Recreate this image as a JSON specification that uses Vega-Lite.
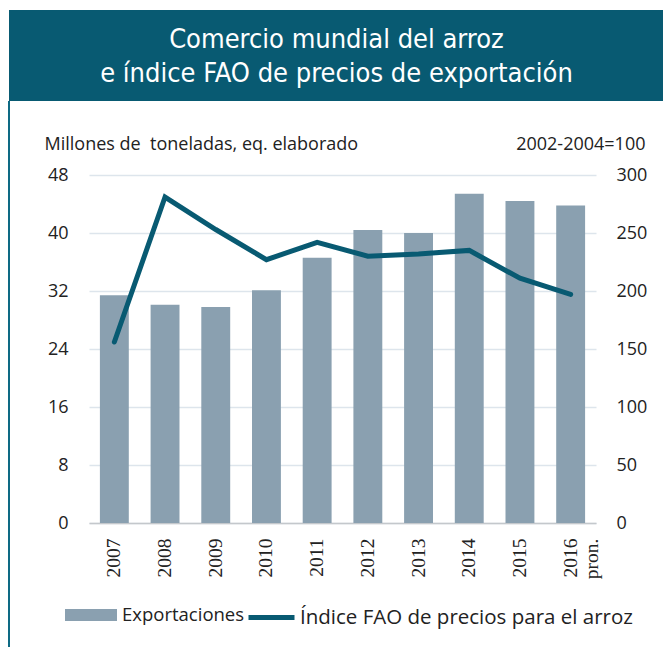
{
  "$schema": "https://vega.github.io/schema/vega-lite/v6.json",
  "padding": {"left": 8, "top": 10, "right": 0, "bottom": 0},
  "background": "white",
  "spacing": 0,
  "bounds": "flush",
  "config": {"view": {"stroke": null}, "font": "Open Sans"},
  "datasets": {
    "titulo": [{"texto": "Comercio mundial del arroz\ne índice FAO de precios de exportación"}],
    "comercio": [
      {"anio": "2007", "exportaciones": 31.4, "indice": 156},
      {"anio": "2008", "exportaciones": 30.1, "indice": 281},
      {"anio": "2009", "exportaciones": 29.8, "indice": 253},
      {"anio": "2010", "exportaciones": 32.1, "indice": 227},
      {"anio": "2011", "exportaciones": 36.6, "indice": 242},
      {"anio": "2012", "exportaciones": 40.4, "indice": 230},
      {"anio": "2013", "exportaciones": 40.0, "indice": 232},
      {"anio": "2014", "exportaciones": 45.4, "indice": 235},
      {"anio": "2015", "exportaciones": 44.4, "indice": 211},
      {"anio": "2016", "exportaciones": 43.8, "indice": 197}
    ]
  },
  "vconcat": [
    {
      "width": 655,
      "height": 91,
      "view": {"fill": "#085a72", "stroke": null},
      "data": {"name": "titulo"},
      "mark": {"type": "text", "font": "DejaVu Sans Condensed, Roboto, Liberation Sans, sans-serif", "fontSize": 27, "color": "white", "lineBreak": "\n", "lineHeight": 34, "align": "center", "baseline": "middle", "dy": -16},
      "encoding": {"text": {"field": "texto", "type": "nominal"}}
    },
    {
      "width": 655,
      "height": 546,
      "view": {"stroke": "#0e6a84", "strokeWidth": 2, "strokeDash": [0, 1856, 546, 10]},
      "data": {"name": "comercio"},
      "layer": [
        {
          "mark": {"type": "bar"},
          "encoding": {
            "x": {
              "field": "anio", "type": "ordinal",
              "scale": {"range": [80, 587], "paddingInner": 0.43, "paddingOuter": 0.215},
              "axis": {
                "orient": "bottom", "offset": -124, "title": null,
                "labelAngle": -90, "labelAlign": "right", "labelBaseline": "middle", "labelPadding": 15,
                "labelFont": "Liberation Serif", "labelFontSize": 19.5, "labelColor": "#222",
                "ticks": false, "domainColor": "#c4c8cc", "domainWidth": 1.5, "grid": false,
                "labelExpr": "datum.value == '2016' ? ['2016', 'pron.'] : datum.value"
              }
            },
            "y": {
              "field": "exportaciones", "type": "quantitative",
              "scale": {"domain": [0, 48], "range": [422, 74], "nice": false, "zero": true},
              "axis": {
                "orient": "left", "offset": -80, "values": [0, 8, 16, 24, 32, 40, 48],
                "domain": false, "ticks": false, "labelPadding": 21, "labelFontSize": 18, "labelColor": "#222",
                "grid": true, "gridColor": "#dde5ec", "gridWidth": 1.5,
                "title": "Millones de\u00a0 toneladas, eq. elaborado", "titleAngle": 0, "titleAlign": "left",
                "titleBaseline": "alphabetic", "titleX": -45, "titleY": 48, "titleFontSize": 18,
                "titleFontWeight": "normal", "titleColor": "#222"
              }
            },
            "fill": {
              "datum": "Exportaciones", "type": "nominal",
              "scale": {"range": ["#8aa0b0"]},
              "legend": {
                "orient": "none", "legendX": 56, "legendY": 579, "title": null,
                "symbolType": "M-1,-0.23H1V0.23H-1Z", "symbolSize": 2704, "symbolStrokeWidth": 0,
                "labelFontSize": 18.5, "labelOffset": 5, "labelColor": "#222", "labelLimit": 400
              }
            }
          }
        },
        {
          "mark": {"type": "line", "strokeWidth": 5, "strokeCap": "round"},
          "encoding": {
            "x": {"field": "anio", "type": "ordinal"},
            "y": {
              "field": "indice", "type": "quantitative",
              "scale": {"domain": [0, 300], "range": [422, 74], "nice": false},
              "axis": {
                "orient": "right", "offset": -68, "values": [0, 50, 100, 150, 200, 250, 300],
                "domain": false, "ticks": false, "grid": false, "labelPadding": 20, "labelFontSize": 18, "labelColor": "#222",
                "title": "2002-2004=100", "titleAngle": 0, "titleAlign": "right", "titleBaseline": "alphabetic",
                "titleX": 49, "titleY": 48, "titleFontSize": 18, "titleFontWeight": "normal", "titleColor": "#222"
              }
            },
            "stroke": {
              "datum": "Índice FAO de precios para el arroz", "type": "nominal",
              "scale": {"range": ["#085a72"]},
              "legend": {
                "orient": "none", "legendX": 237, "legendY": 582, "title": null,
                "symbolType": "stroke", "symbolSize": 2116, "symbolStrokeWidth": 5,
                "labelFontSize": 20.5, "labelOffset": 3, "labelColor": "#222", "labelLimit": 400
              }
            }
          }
        }
      ],
      "resolve": {"scale": {"y": "independent"}}
    }
  ]
}
